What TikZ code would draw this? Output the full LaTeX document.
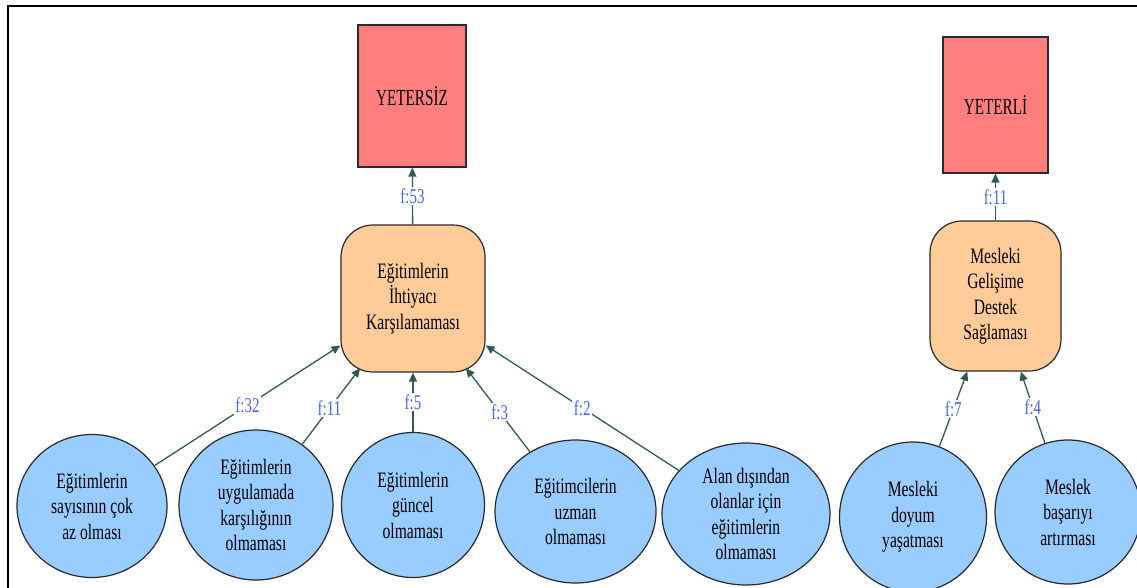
\documentclass[tikz,border=0pt]{standalone}
\usepackage{fontspec}
\setmainfont{Liberation Serif}[FakeStretch=0.71]
\newfontfamily\titlefont{Liberation Serif}[FakeStretch=0.66]
\usetikzlibrary{shapes.geometric,arrows.meta}
\definecolor{redbox}{HTML}{FF7F7F}
\definecolor{peach}{HTML}{FFCC99}
\definecolor{skyb}{HTML}{99CCFF}
\definecolor{conncol}{HTML}{2F5B56}
\definecolor{lblcol}{HTML}{4169E1}
\definecolor{bordercol}{HTML}{2A2A2A}
\begin{document}
\begin{tikzpicture}[x=1pt,y=-1pt,
  resultbox/.style={draw=bordercol,line width=1.2pt,fill=redbox,inner sep=0pt,font=\titlefont\fontsize{23}{28}\selectfont},
  themebox/.style={draw=bordercol,line width=1.2pt,fill=peach,rounded corners=32pt,inner sep=0pt,align=center,font=\fontsize{22}{25.5}\selectfont},
  codeell/.style={ellipse,draw=bordercol,line width=1.2pt,fill=skyb,inner sep=0pt,align=center,font=\fontsize{22}{25.5}\selectfont},
  conn/.style={draw=conncol,line width=1.3pt,-{Triangle[length=9pt,width=8pt]}},
  freq/.style={fill=white,inner sep=1.5pt,text=lblcol,font=\fontsize{21}{24}\selectfont},
]
\useasboundingbox (0,0) rectangle (1137,587);
\draw[line width=2.4pt] (8,590) -- (8,6) -- (1140,6);

\node[resultbox,minimum width=108pt,minimum height=142pt] (r1) at (412,96) {YETERSİZ};
\node[resultbox,minimum width=105pt,minimum height=136pt] (r2) at (995.5,105) {YETERLİ};

\node[themebox,minimum width=144pt,minimum height=147pt] (o1) at (413,298.5) {Eğitimlerin\\İhtiyacı\\Karşılamaması};
\node[themebox,minimum width=131pt,minimum height=150pt] (o2) at (995.5,296) {Mesleki\\Gelişime\\Destek\\Sağlaması};

\node[codeell,minimum width=150pt,minimum height=143pt] (e1) at (92,506) {Eğitimlerin\\sayısının çok\\az olması};
\node[codeell,minimum width=154pt,minimum height=150pt] (e2) at (256,505) {Eğitimlerin\\uygulamada\\karşılığının\\olmaması};
\node[codeell,minimum width=143pt,minimum height=145pt] (e3) at (413,505) {Eğitimlerin\\güncel\\olmaması};
\node[codeell,minimum width=161pt,minimum height=143pt] (e4) at (575.5,511.5) {Eğitimcilerin\\uzman\\olmaması};
\node[codeell,minimum width=168pt,minimum height=142pt] (e5) at (746,514) {Alan dışından\\olanlar için\\eğitimlerin\\olmaması};
\node[codeell,minimum width=147pt,minimum height=150pt] (e6) at (913,517) {Mesleki\\doyum\\yaşatması};
\node[codeell,minimum width=146pt,minimum height=144pt] (e7) at (1068,512) {Meslek\\başarıyı\\artırması};

\draw[conn] (e1) -- node[freq]{f:32} (o1);
\draw[conn,shorten >=-5.7pt] (e2) -- node[freq]{f:11} (o1);
\draw[conn] (e3) -- node[freq]{f:5} (o1);
\draw[conn,shorten >=-5.8pt] (e4) -- node[freq]{f:3} (o1);
\draw[conn] (e5) -- node[freq]{f:2} (o1);
\draw[conn] (o1) -- node[freq]{f:53} (r1);
\draw[conn] (e6) -- node[freq]{f:7} (o2);
\draw[conn] (e7) -- node[freq]{f:4} (o2);
\draw[conn] (o2) -- node[freq]{f:11} (r2);
\end{tikzpicture}
\end{document}
